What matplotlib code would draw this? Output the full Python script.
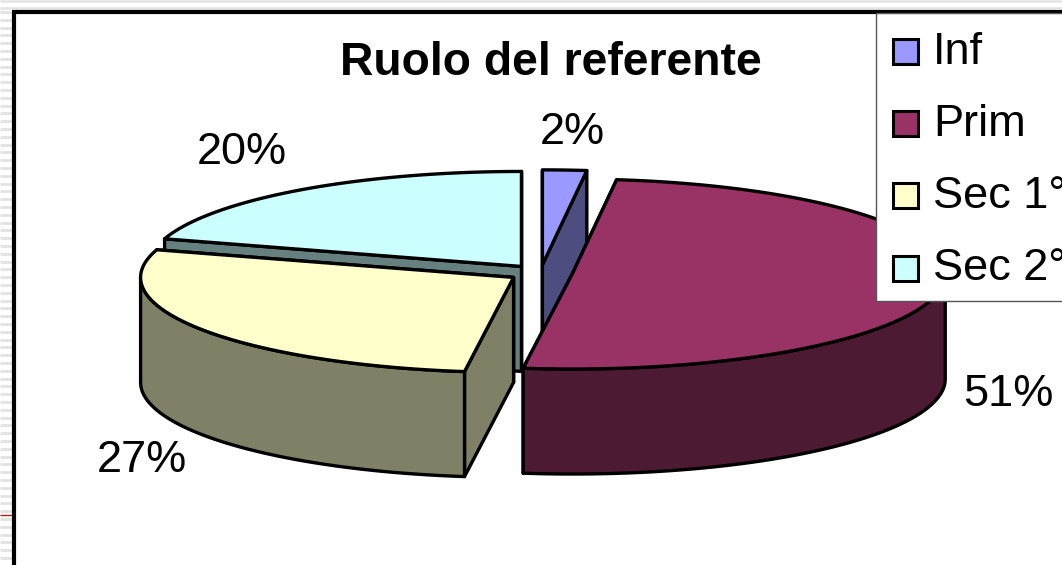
import matplotlib
matplotlib.use("Agg")
import matplotlib.pyplot as plt
import numpy as np
from matplotlib.patches import Polygon, Rectangle

plt.rcParams["font.family"] = ["Liberation Sans", "DejaVu Sans"]

TITLE = "Ruolo del referente"
categories = ["Inf", "Prim", "Sec 1°", "Sec 2°"]
# slice sizes as drawn, the printed labels are kept apart
values = [1.9, 50.2, 27.6, 20.3]
pct_labels = ["2%", "51%", "27%", "20%"]
top_colors = ["#9999FF", "#993366", "#FFFFCC", "#CCFFFF"]
side_colors = ["#4D4D80", "#4D1A33", "#808066", "#668080"]

# layout in pixels
W, H = 1062, 565
CX, CY = 540.5, 273
RX, RY = 373, 95
EXPLODE = 32
DEPTH = 105
LW = 2.4


def project(cx, cy, ang):
    # angle in degrees, clockwise from 12 o'clock
    a = np.radians(ang)
    return cx + RX * np.sin(a), cy - RY * np.cos(a)


def draw_slice(ax, a0, a1, top, side):
    mid = np.radians((a0 + a1) / 2)
    cx = CX + EXPLODE * np.sin(mid)
    cy = CY - EXPLODE * (RY / RX) * np.cos(mid)
    kw = dict(edgecolor="black", linewidth=LW, joinstyle="round")

    # radial walls first (nearest one last), then the rim, the top goes over them
    for ang in sorted((a0, a1), key=lambda v: project(cx, cy, v)[1]):
        x, y = project(cx, cy, ang)
        wall = [(cx, cy), (x, y), (x, y + DEPTH), (cx, cy + DEPTH)]
        ax.add_patch(Polygon(wall, facecolor=side, **kw))

    lo, hi = max(a0, 90), min(a1, 270)
    if lo < hi:
        t = np.linspace(lo, hi, 80)
        x, y = project(cx, cy, t)
        rim = np.r_[np.c_[x, y], np.c_[x, y + DEPTH][::-1]]
        ax.add_patch(Polygon(rim, facecolor=side, **kw))

    t = np.linspace(a0, a1, 120)
    x, y = project(cx, cy, t)
    ax.add_patch(Polygon(np.r_[[(cx, cy)], np.c_[x, y]], facecolor=top, **kw))


fig = plt.figure(figsize=(W / 100, H / 100), dpi=100, facecolor="white")
ax = fig.add_axes([0, 0, 1, 1])
ax.set_xlim(0, W)
ax.set_ylim(H, 0)
ax.axis("off")

# slide background behind the chart
ax.hlines(np.arange(12, H, 7.8), 0, 12, color="#E2E2E2", linewidth=2)
ax.hlines([1, 8], 0, W, color="#E4E4E4", linewidth=1.8)
ax.hlines(515, 0, 12, color="#B02020", linewidth=1)
ax.plot([14, 14], [H, 11.5], color="black", linewidth=3, solid_capstyle="butt")
ax.plot([12, W], [11.5, 11.5], color="black", linewidth=3, solid_capstyle="butt")

edges = np.cumsum([0] + values) * 3.6
order = [3, 0, 1, 2]  # back to front
for i in order:
    draw_slice(ax, edges[i], edges[i + 1], top_colors[i], side_colors[i])

label_pos = [(572, 132), (1008, 394), (142, 460), (242, 153)]
for txt, (x, y) in zip(pct_labels, label_pos):
    ax.text(x, y, txt, fontsize=32.5, ha="center", va="center", zorder=6)

ax.text(551, 63, TITLE, fontsize=33.3, fontweight="bold", ha="center", va="center", zorder=6)

# legend box, runs off the right edge like the original
ax.add_patch(Rectangle((876, 13), 200, 288, facecolor="white", edgecolor="#555555",
                       linewidth=1, zorder=5))
legend_y = [51, 123, 195, 268]
for name, col, y in zip(categories, top_colors, legend_y):
    ax.add_patch(Rectangle((892.5, y - 12.5), 25, 25, facecolor=col, edgecolor="black",
                           linewidth=2.2, zorder=6))
    ax.text(933, y + 1, name, fontsize=32.5, ha="left", va="center", zorder=6)

fig.savefig("out.png", dpi=100)
plt.close(fig)
